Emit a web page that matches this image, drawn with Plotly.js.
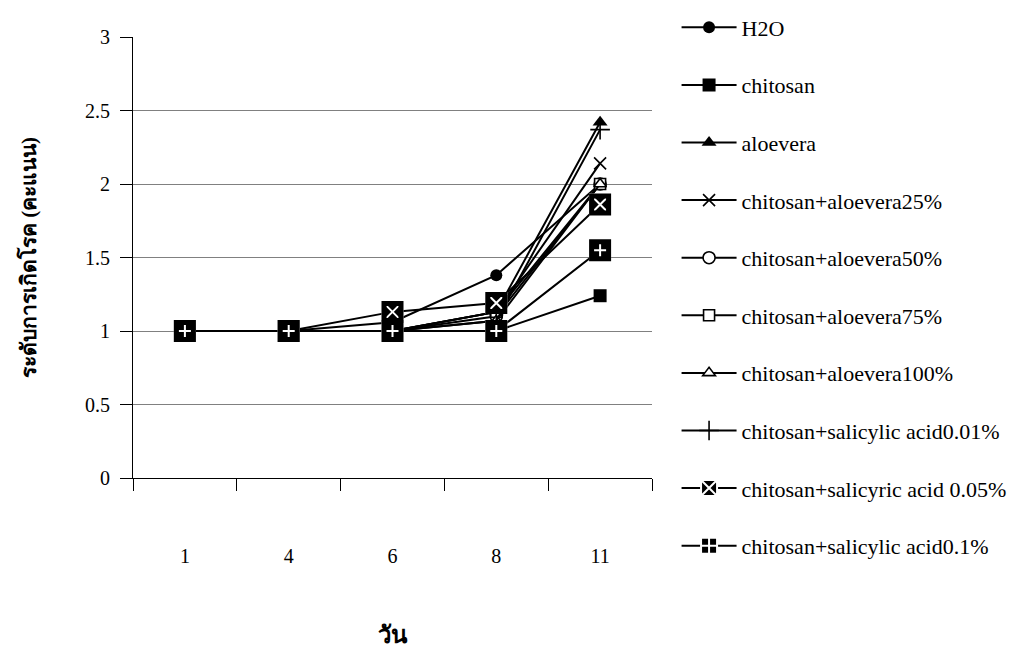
<!DOCTYPE html>
<html>
<head>
<meta charset="utf-8">
<script src="https://cdn.plot.ly/plotly-3.0.1.min.js"></script>
<style>
  html, body { margin: 0; padding: 0; background: #fff; }
  #chart { width: 1022px; height: 648px; }
</style>
</head>
<body>
<div id="chart"></div>
<script>
// Days of observation
const days = ['1', '4', '6', '8', '11'];

// Disease score per treatment
const h2o            = [1, 1, 1.06, 1.38, 2.0];
const chitosan       = [1, 1, 1, 1, 1.24];
const aloevera       = [1, 1, 1, 1.13, 2.42];
const chAloe25       = [1, 1, 1, 1.13, 2.14];
const chAloe50       = [1, 1, 1, 1.10, 2.0];
const chAloe75       = [1, 1, 1, 1.13, 2.0];
const chAloe100      = [1, 1, 1, 1.07, 2.0];
const chSalicylic001 = [1, 1, 1, 1.07, 2.37];
const chSalicylic005 = [1, 1, 1.13, 1.19, 1.86];
const chSalicylic01  = [1, 1, 1, 1, 1.55];

const seriesNames = [
  'H2O', 'chitosan', 'aloevera',
  'chitosan+aloevera25%', 'chitosan+aloevera50%',
  'chitosan+aloevera75%', 'chitosan+aloevera100%',
  'chitosan+salicylic acid0.01%', 'chitosan+salicyric acid 0.05%',
  'chitosan+salicylic acid0.1%'
];

const serif = 'Liberation Serif, Times New Roman, serif';

function series(idx, y, marker) {
  return {
    type: 'scatter', mode: 'lines+markers',
    x: days, y: y, name: seriesNames[idx],
    legendgroup: 'g' + idx,
    line: { color: '#000', width: 2 },
    marker: marker
  };
}

// Black frame drawn over the boxed markers so the white glyph stays inside
function boxFrame(idx, y) {
  return {
    type: 'scatter', mode: 'markers',
    x: days, y: y, name: seriesNames[idx],
    legendgroup: 'g' + idx, showlegend: false,
    marker: { symbol: 'square-open', size: 17, color: '#000', line: { color: '#000', width: 5 } }
  };
}

const traces = [
  series(0, h2o,            { symbol: 'circle', size: 12, color: '#000' }),
  series(1, chitosan,       { symbol: 'square', size: 13, color: '#000' }),
  series(2, aloevera,       { symbol: 'triangle-up', size: 13, color: '#000' }),
  series(3, chAloe25,       { symbol: 'x-thin', size: 12, color: '#000', line: { color: '#000', width: 1.6 } }),
  series(4, chAloe50,       { symbol: 'circle', size: 12, color: '#fff', line: { color: '#000', width: 1.6 } }),
  series(5, chAloe75,       { symbol: 'square', size: 11, color: '#fff', line: { color: '#000', width: 1.6 } }),
  series(6, chAloe100,      { symbol: 'triangle-up', size: 11, color: '#fff', line: { color: '#000', width: 1.6 } }),
  series(7, chSalicylic001, { symbol: 'cross-thin', size: 14, color: '#000', line: { color: '#000', width: 1.6 } }),
  series(8, chSalicylic005, { symbol: 'square-x', size: 20, color: '#000', line: { color: '#fff', width: 2 } }),
  boxFrame(8, chSalicylic005),
  series(9, chSalicylic01,  { symbol: 'square-cross', size: 20, color: '#000', line: { color: '#fff', width: 2 } }),
  boxFrame(9, chSalicylic01)
];

const layout = {
  width: 1022, height: 648,
  paper_bgcolor: '#fff', plot_bgcolor: '#fff',
  margin: { l: 133, r: 370, t: 37, b: 170 },
  font: { family: serif, color: '#000', size: 20 },
  showlegend: true,
  legend: {
    xref: 'container', yref: 'container',
    x: 0.662, y: 0.99, xanchor: 'left', yanchor: 'top',
    font: { family: serif, size: 22, color: '#000' },
    tracegroupgap: 26, itemwidth: 55, maxheight: 645,
    bgcolor: 'rgba(0,0,0,0)'
  },
  xaxis: {
    type: 'category', range: [-0.5, 4.5],
    tickson: 'boundaries', ticks: 'outside', ticklen: 12, tickcolor: '#000',
    showline: true, linecolor: '#000', linewidth: 1,
    showgrid: false, zeroline: false,
    tickfont: { family: serif, size: 20, color: '#000' },
    ticklabelstandoff: 60,
    title: { text: '<b>วัน</b>', font: { family: serif, size: 24, color: '#000' }, standoff: 62 }
  },
  yaxis: {
    range: [0, 3], dtick: 0.5, tick0: 0,
    ticks: 'outside', ticklen: 12, tickcolor: '#000',
    showline: true, linecolor: '#000', linewidth: 1,
    showgrid: true, gridcolor: '#808080', gridwidth: 1,
    zeroline: false,
    tickfont: { family: serif, size: 20, color: '#000' },
    ticklabelstandoff: 6,
    title: { text: '<b>ระดับการเกิดโรค (คะแนน)</b>', font: { family: serif, size: 21, color: '#000' }, standoff: 42 }
  }
};

Plotly.newPlot('chart', traces, layout, { displayModeBar: false, staticPlot: true });
</script>
</body>
</html>
